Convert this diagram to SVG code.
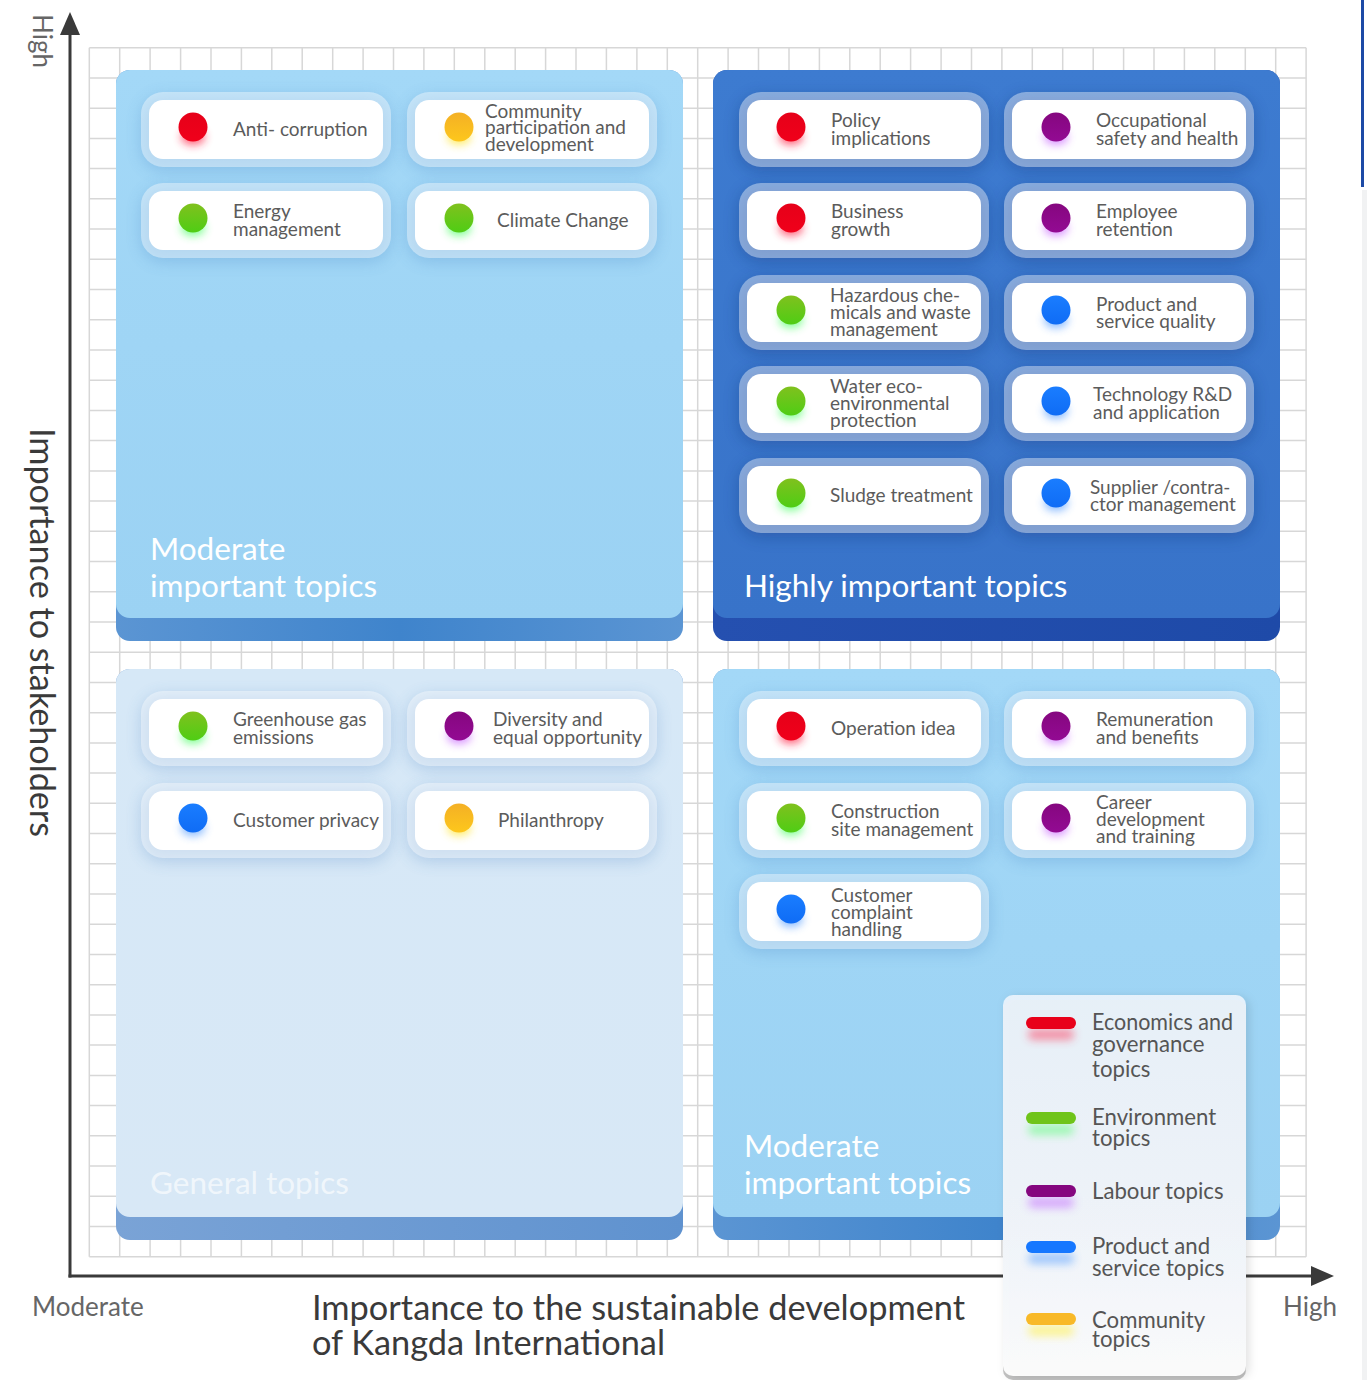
<svg xmlns="http://www.w3.org/2000/svg" width="1367" height="1380" viewBox="0 0 1367 1380">
<style>
.grid{fill:none;stroke:#d7d7d7;stroke-width:1.5}
.ring{fill:#fff;fill-opacity:.4}
.inner{fill:#fff}
.csh{fill:#2a6bb5;opacity:.22}
.cshd{fill:#0a2a70;opacity:.3}
.t{font-family:Lato,"Source Sans Pro","Noto Sans",sans-serif;font-size:19px;fill:#5b5b5b}
.lg{font-family:Lato,"Source Sans Pro","Noto Sans",sans-serif;font-size:22.2px;fill:#555}
.pt{font-family:Lato,"Source Sans Pro","Noto Sans",sans-serif;font-size:31.5px;fill:#fff}
.ax{font-family:Lato,"Source Sans Pro","Noto Sans",sans-serif;font-size:26px;fill:#666}
.ttl{font-family:Lato,"Source Sans Pro","Noto Sans",sans-serif;font-size:35px;fill:#3a3a3a}
.axis{fill:none;stroke:#3a3a3a;stroke-width:3}
</style>
<defs>
<filter id="fB4" x="-80%" y="-80%" width="260%" height="260%"><feGaussianBlur stdDeviation="4"/></filter>
<filter id="fB8" x="-30%" y="-50%" width="160%" height="200%"><feGaussianBlur stdDeviation="8"/></filter>
<filter id="fLeg" x="-10%" y="-10%" width="125%" height="120%"><feDropShadow dx="3" dy="2" stdDeviation="5" flood-color="#000" flood-opacity="0.13"/></filter>
<linearGradient id="gLight" x1="0" y1="0" x2="0" y2="1"><stop offset="0" stop-color="#a3d8f7"/><stop offset="1" stop-color="#9bd2f3"/></linearGradient>
<linearGradient id="gDark" x1="0" y1="0" x2="0" y2="1"><stop offset="0" stop-color="#3d7bd0"/><stop offset="1" stop-color="#3873c9"/></linearGradient>
<linearGradient id="gPale" x1="0" y1="0" x2="0" y2="1"><stop offset="0" stop-color="#d6e8f7"/><stop offset="1" stop-color="#d8e8f6"/></linearGradient>
<linearGradient id="gEdgeL" x1="0" y1="0" x2="1" y2="0"><stop offset="0" stop-color="#5b95d3"/><stop offset=".5" stop-color="#3f84cc"/><stop offset="1" stop-color="#5b95d3"/></linearGradient>
<linearGradient id="gEdgeD" x1="0" y1="0" x2="1" y2="0"><stop offset="0" stop-color="#2550b0"/><stop offset="1" stop-color="#1e4aa8"/></linearGradient>
<linearGradient id="gEdgeP" x1="0" y1="0" x2="1" y2="0"><stop offset="0" stop-color="#7aa3d6"/><stop offset="1" stop-color="#5f92cf"/></linearGradient>
<linearGradient id="gLeg" x1="0" y1="0" x2="0" y2="1"><stop offset="0" stop-color="#eaf3fc"/><stop offset=".6" stop-color="#f2f7fd"/><stop offset="1" stop-color="#ffffff"/></linearGradient>
<linearGradient id="dRed" x1="0" y1="0" x2="0" y2="1"><stop offset="0" stop-color="#e60019"/><stop offset="1" stop-color="#f0001a"/></linearGradient>
<linearGradient id="dGreen" x1="0" y1="0" x2="0" y2="1"><stop offset="0" stop-color="#80c11e"/><stop offset="1" stop-color="#4fcd14"/></linearGradient>
<linearGradient id="dYellow" x1="0" y1="0" x2="0" y2="1"><stop offset="0" stop-color="#f4b025"/><stop offset="1" stop-color="#fdc71c"/></linearGradient>
<linearGradient id="dPurple" x1="0" y1="0" x2="0" y2="1"><stop offset="0" stop-color="#85077f"/><stop offset="1" stop-color="#930a93"/></linearGradient>
<linearGradient id="dBlue" x1="0" y1="0" x2="0" y2="1"><stop offset="0" stop-color="#1a7dff"/><stop offset="1" stop-color="#0f6cf5"/></linearGradient>
<marker id="arrow" viewBox="0 0 23 20" refX="0" refY="10" markerWidth="23" markerHeight="20" markerUnits="userSpaceOnUse" orient="auto"><path d="M0 0L23 10L0 20Z" fill="#3a3a3a"/></marker>
</defs>

<rect width="1367" height="1380" fill="#fff"/>
<rect x="1361" y="0" width="3" height="187" fill="#1c4aa6"/>
<rect x="1362" y="190" width="5" height="1190" fill="#f1f2f3"/>

<g id="grid">
<path class="grid" d="M89.3 47.7V1256.7M119.7 47.7V1256.7M150.1 47.7V1256.7M180.6 47.7V1256.7M211 47.7V1256.7M241.4 47.7V1256.7M271.8 47.7V1256.7M302.2 47.7V1256.7M332.7 47.7V1256.7M363.1 47.7V1256.7M393.5 47.7V1256.7M423.9 47.7V1256.7M454.3 47.7V1256.7M484.8 47.7V1256.7M515.2 47.7V1256.7M545.6 47.7V1256.7M576 47.7V1256.7M606.4 47.7V1256.7M636.9 47.7V1256.7M667.3 47.7V1256.7M697.7 47.7V1256.7M728.1 47.7V1256.7M758.5 47.7V1256.7M789 47.7V1256.7M819.4 47.7V1256.7M849.8 47.7V1256.7M880.2 47.7V1256.7M910.6 47.7V1256.7M941.1 47.7V1256.7M971.5 47.7V1256.7M1001.9 47.7V1256.7M1032.3 47.7V1256.7M1062.7 47.7V1256.7M1093.2 47.7V1256.7M1123.6 47.7V1256.7M1154 47.7V1256.7M1184.4 47.7V1256.7M1214.8 47.7V1256.7M1245.3 47.7V1256.7M1275.7 47.7V1256.7M1306.1 47.7V1256.7"/>
<path class="grid" d="M89.3 47.7H1306.1M89.3 77.9H1306.1M89.3 108.2H1306.1M89.3 138.4H1306.1M89.3 168.6H1306.1M89.3 198.8H1306.1M89.3 229.1H1306.1M89.3 259.3H1306.1M89.3 289.5H1306.1M89.3 319.7H1306.1M89.3 350H1306.1M89.3 380.2H1306.1M89.3 410.4H1306.1M89.3 440.6H1306.1M89.3 470.9H1306.1M89.3 501.1H1306.1M89.3 531.3H1306.1M89.3 561.5H1306.1M89.3 591.8H1306.1M89.3 622H1306.1M89.3 652.2H1306.1M89.3 682.4H1306.1M89.3 712.7H1306.1M89.3 742.9H1306.1M89.3 773.1H1306.1M89.3 803.3H1306.1M89.3 833.6H1306.1M89.3 863.8H1306.1M89.3 894H1306.1M89.3 924.2H1306.1M89.3 954.5H1306.1M89.3 984.7H1306.1M89.3 1014.9H1306.1M89.3 1045.1H1306.1M89.3 1075.4H1306.1M89.3 1105.6H1306.1M89.3 1135.8H1306.1M89.3 1166H1306.1M89.3 1196.3H1306.1M89.3 1226.5H1306.1M89.3 1256.7H1306.1"/>
</g>

<g id="connectors">
<path class="axis" d="M70 1277.5V35" marker-end="url(#arrow)"/>
<path class="axis" d="M68.5 1276H1311" marker-end="url(#arrow)"/>
</g>

<g id="axis-labels">
<text class="ax" transform="translate(33,14) rotate(90)">High</text>
<text class="ttl" transform="translate(30,428) rotate(90)" font-size="34.6" textLength="409" lengthAdjust="spacingAndGlyphs">Importance to stakeholders</text>
<text class="ax" x="32" y="1316">Moderate</text>
<text class="ax" x="1283" y="1316">High</text>
<text class="ttl" x="312" y="1320" textLength="653" lengthAdjust="spacingAndGlyphs">Importance to the sustainable development</text>
<text class="ttl" x="312" y="1355" textLength="353" lengthAdjust="spacingAndGlyphs">of Kangda International</text>
</g>

<!-- Panels -->
<g id="panel-top-left">
<rect x="116" y="70" width="567" height="571" rx="14" fill="url(#gEdgeL)"/>
<rect x="116" y="70" width="567" height="548" rx="14" fill="url(#gLight)"/>
<text class="pt" x="150" y="560">Moderate</text>
<text class="pt" x="150" y="597">important topics</text>
</g>
<g id="panel-top-right">
<rect x="713" y="70" width="567" height="571" rx="14" fill="url(#gEdgeD)"/>
<rect x="713" y="70" width="567" height="548" rx="14" fill="url(#gDark)"/>
<text class="pt" x="744" y="597">Highly important topics</text>
</g>
<g id="panel-bottom-left">
<rect x="116" y="669" width="567" height="571" rx="14" fill="url(#gEdgeP)"/>
<rect x="116" y="669" width="567" height="548" rx="14" fill="url(#gPale)"/>
<text class="pt" x="150" y="1194" fill-opacity="0.65">General topics</text>
</g>
<g id="panel-bottom-right">
<rect x="713" y="669" width="567" height="571" rx="14" fill="url(#gEdgeL)"/>
<rect x="713" y="669" width="567" height="548" rx="14" fill="url(#gLight)"/>
<text class="pt" x="744" y="1157">Moderate</text>
<text class="pt" x="744" y="1194">important topics</text>
</g>

<!-- Cards: top-left -->
<g id="card-anti-corruption" transform="translate(141,92)">
<rect class="csh" y="4" width="250" height="75" rx="22" filter="url(#fB8)"/>
<rect class="ring" width="250" height="75" rx="22"/><rect class="inner" x="8" y="8" width="234" height="59" rx="14"/>
<ellipse cx="52" cy="45" rx="12" ry="8" fill="#ff2244" opacity=".7" filter="url(#fB4)"/><circle cx="52" cy="35" r="14.5" fill="url(#dRed)"/>
<text class="t" x="92" y="43.5">Anti- corruption</text>
</g>
<g id="card-community" transform="translate(407,92)">
<rect class="csh" y="4" width="250" height="75" rx="22" filter="url(#fB8)"/>
<rect class="ring" width="250" height="75" rx="22"/><rect class="inner" x="8" y="8" width="234" height="59" rx="14"/>
<ellipse cx="52" cy="45" rx="12" ry="8" fill="#ffe630" opacity=".7" filter="url(#fB4)"/><circle cx="52" cy="35" r="14.5" fill="url(#dYellow)"/>
<text class="t"><tspan x="78" y="25.5">Community</tspan><tspan x="78" y="42">participation and</tspan><tspan x="78" y="59">development</tspan></text>
</g>
<g id="card-energy" transform="translate(141,183)">
<rect class="csh" y="4" width="250" height="75" rx="22" filter="url(#fB8)"/>
<rect class="ring" width="250" height="75" rx="22"/><rect class="inner" x="8" y="8" width="234" height="59" rx="14"/>
<ellipse cx="52" cy="45" rx="12" ry="8" fill="#30ff50" opacity=".6" filter="url(#fB4)"/><circle cx="52" cy="35" r="14.5" fill="url(#dGreen)"/>
<text class="t"><tspan x="92" y="34.5">Energy</tspan><tspan x="92" y="52.5">management</tspan></text>
</g>
<g id="card-climate" transform="translate(407,183)">
<rect class="csh" y="4" width="250" height="75" rx="22" filter="url(#fB8)"/>
<rect class="ring" width="250" height="75" rx="22"/><rect class="inner" x="8" y="8" width="234" height="59" rx="14"/>
<ellipse cx="52" cy="45" rx="12" ry="8" fill="#30ff50" opacity=".6" filter="url(#fB4)"/><circle cx="52" cy="35" r="14.5" fill="url(#dGreen)"/>
<text class="t" x="90" y="43.5">Climate Change</text>
</g>

<!-- Cards: top-right -->
<g id="card-policy" transform="translate(739,92)">
<rect class="cshd" y="4" width="250" height="75" rx="22" filter="url(#fB8)"/>
<rect class="ring" width="250" height="75" rx="22"/><rect class="inner" x="8" y="8" width="234" height="59" rx="14"/>
<ellipse cx="52" cy="45" rx="12" ry="8" fill="#ff2244" opacity=".7" filter="url(#fB4)"/><circle cx="52" cy="35" r="14.5" fill="url(#dRed)"/>
<text class="t"><tspan x="92" y="34.5">Policy</tspan><tspan x="92" y="52.5">implications</tspan></text>
</g>
<g id="card-occupational" transform="translate(1004,92)">
<rect class="cshd" y="4" width="250" height="75" rx="22" filter="url(#fB8)"/>
<rect class="ring" width="250" height="75" rx="22"/><rect class="inner" x="8" y="8" width="234" height="59" rx="14"/>
<ellipse cx="52" cy="45" rx="12" ry="8" fill="#c050ff" opacity=".6" filter="url(#fB4)"/><circle cx="52" cy="35" r="14.5" fill="url(#dPurple)"/>
<text class="t"><tspan x="92" y="34.5">Occupational</tspan><tspan x="92" y="52.5">safety and health</tspan></text>
</g>
<g id="card-business" transform="translate(739,183)">
<rect class="cshd" y="4" width="250" height="75" rx="22" filter="url(#fB8)"/>
<rect class="ring" width="250" height="75" rx="22"/><rect class="inner" x="8" y="8" width="234" height="59" rx="14"/>
<ellipse cx="52" cy="45" rx="12" ry="8" fill="#ff2244" opacity=".7" filter="url(#fB4)"/><circle cx="52" cy="35" r="14.5" fill="url(#dRed)"/>
<text class="t"><tspan x="92" y="34.5">Business</tspan><tspan x="92" y="52.5">growth</tspan></text>
</g>
<g id="card-employee" transform="translate(1004,183)">
<rect class="cshd" y="4" width="250" height="75" rx="22" filter="url(#fB8)"/>
<rect class="ring" width="250" height="75" rx="22"/><rect class="inner" x="8" y="8" width="234" height="59" rx="14"/>
<ellipse cx="52" cy="45" rx="12" ry="8" fill="#c050ff" opacity=".6" filter="url(#fB4)"/><circle cx="52" cy="35" r="14.5" fill="url(#dPurple)"/>
<text class="t"><tspan x="92" y="34.5">Employee</tspan><tspan x="92" y="52.5">retention</tspan></text>
</g>
<g id="card-hazardous" transform="translate(739,275)">
<rect class="cshd" y="4" width="250" height="75" rx="22" filter="url(#fB8)"/>
<rect class="ring" width="250" height="75" rx="22"/><rect class="inner" x="8" y="8" width="234" height="59" rx="14"/>
<ellipse cx="52" cy="45" rx="12" ry="8" fill="#30ff50" opacity=".6" filter="url(#fB4)"/><circle cx="52" cy="35" r="14.5" fill="url(#dGreen)"/>
<text class="t"><tspan x="91" y="27">Hazardous che-</tspan><tspan x="91" y="44">micals and waste</tspan><tspan x="91" y="61">management</tspan></text>
</g>
<g id="card-product-quality" transform="translate(1004,275)">
<rect class="cshd" y="4" width="250" height="75" rx="22" filter="url(#fB8)"/>
<rect class="ring" width="250" height="75" rx="22"/><rect class="inner" x="8" y="8" width="234" height="59" rx="14"/>
<ellipse cx="52" cy="45" rx="12" ry="8" fill="#3d8fff" opacity=".6" filter="url(#fB4)"/><circle cx="52" cy="35" r="14.5" fill="url(#dBlue)"/>
<text class="t"><tspan x="92" y="35.5">Product and</tspan><tspan x="92" y="53">service quality</tspan></text>
</g>
<g id="card-water" transform="translate(739,366)">
<rect class="cshd" y="4" width="250" height="75" rx="22" filter="url(#fB8)"/>
<rect class="ring" width="250" height="75" rx="22"/><rect class="inner" x="8" y="8" width="234" height="59" rx="14"/>
<ellipse cx="52" cy="45" rx="12" ry="8" fill="#30ff50" opacity=".6" filter="url(#fB4)"/><circle cx="52" cy="35" r="14.5" fill="url(#dGreen)"/>
<text class="t"><tspan x="91" y="26.5">Water eco-</tspan><tspan x="91" y="43.5">environmental</tspan><tspan x="91" y="60.5">protection</tspan></text>
</g>
<g id="card-technology" transform="translate(1004,366)">
<rect class="cshd" y="4" width="250" height="75" rx="22" filter="url(#fB8)"/>
<rect class="ring" width="250" height="75" rx="22"/><rect class="inner" x="8" y="8" width="234" height="59" rx="14"/>
<ellipse cx="52" cy="45" rx="12" ry="8" fill="#3d8fff" opacity=".6" filter="url(#fB4)"/><circle cx="52" cy="35" r="14.5" fill="url(#dBlue)"/>
<text class="t"><tspan x="89" y="34.5">Technology R&amp;D</tspan><tspan x="89" y="52.5">and application</tspan></text>
</g>
<g id="card-sludge" transform="translate(739,458)">
<rect class="cshd" y="4" width="250" height="75" rx="22" filter="url(#fB8)"/>
<rect class="ring" width="250" height="75" rx="22"/><rect class="inner" x="8" y="8" width="234" height="59" rx="14"/>
<ellipse cx="52" cy="45" rx="12" ry="8" fill="#30ff50" opacity=".6" filter="url(#fB4)"/><circle cx="52" cy="35" r="14.5" fill="url(#dGreen)"/>
<text class="t" x="91" y="43.5">Sludge treatment</text>
</g>
<g id="card-supplier" transform="translate(1004,458)">
<rect class="cshd" y="4" width="250" height="75" rx="22" filter="url(#fB8)"/>
<rect class="ring" width="250" height="75" rx="22"/><rect class="inner" x="8" y="8" width="234" height="59" rx="14"/>
<ellipse cx="52" cy="45" rx="12" ry="8" fill="#3d8fff" opacity=".6" filter="url(#fB4)"/><circle cx="52" cy="35" r="14.5" fill="url(#dBlue)"/>
<text class="t"><tspan x="86" y="35.5">Supplier /contra-</tspan><tspan x="86" y="52.5">ctor management</tspan></text>
</g>

<!-- Cards: bottom-left -->
<g id="card-greenhouse" transform="translate(141,691)">
<rect class="csh" y="4" width="250" height="75" rx="22" filter="url(#fB8)" opacity=".1"/>
<rect class="ring" width="250" height="75" rx="22"/><rect class="inner" x="8" y="8" width="234" height="59" rx="14"/>
<ellipse cx="52" cy="45" rx="12" ry="8" fill="#30ff50" opacity=".6" filter="url(#fB4)"/><circle cx="52" cy="35" r="14.5" fill="url(#dGreen)"/>
<text class="t"><tspan x="92" y="34.5">Greenhouse gas</tspan><tspan x="92" y="52.5">emissions</tspan></text>
</g>
<g id="card-diversity" transform="translate(407,691)">
<rect class="csh" y="4" width="250" height="75" rx="22" filter="url(#fB8)" opacity=".1"/>
<rect class="ring" width="250" height="75" rx="22"/><rect class="inner" x="8" y="8" width="234" height="59" rx="14"/>
<ellipse cx="52" cy="45" rx="12" ry="8" fill="#c050ff" opacity=".6" filter="url(#fB4)"/><circle cx="52" cy="35" r="14.5" fill="url(#dPurple)"/>
<text class="t"><tspan x="86" y="34.5">Diversity and</tspan><tspan x="86" y="52.5">equal opportunity</tspan></text>
</g>
<g id="card-customer-privacy" transform="translate(141,783)">
<rect class="csh" y="4" width="250" height="75" rx="22" filter="url(#fB8)" opacity=".1"/>
<rect class="ring" width="250" height="75" rx="22"/><rect class="inner" x="8" y="8" width="234" height="59" rx="14"/>
<ellipse cx="52" cy="45" rx="12" ry="8" fill="#3d8fff" opacity=".6" filter="url(#fB4)"/><circle cx="52" cy="35" r="14.5" fill="url(#dBlue)"/>
<text class="t" x="92" y="43.5">Customer privacy</text>
</g>
<g id="card-philanthropy" transform="translate(407,783)">
<rect class="csh" y="4" width="250" height="75" rx="22" filter="url(#fB8)" opacity=".1"/>
<rect class="ring" width="250" height="75" rx="22"/><rect class="inner" x="8" y="8" width="234" height="59" rx="14"/>
<ellipse cx="52" cy="45" rx="12" ry="8" fill="#ffe630" opacity=".7" filter="url(#fB4)"/><circle cx="52" cy="35" r="14.5" fill="url(#dYellow)"/>
<text class="t" x="91" y="43.5">Philanthropy</text>
</g>

<!-- Cards: bottom-right -->
<g id="card-operation" transform="translate(739,691)">
<rect class="csh" y="4" width="250" height="75" rx="22" filter="url(#fB8)"/>
<rect class="ring" width="250" height="75" rx="22"/><rect class="inner" x="8" y="8" width="234" height="59" rx="14"/>
<ellipse cx="52" cy="45" rx="12" ry="8" fill="#ff2244" opacity=".7" filter="url(#fB4)"/><circle cx="52" cy="35" r="14.5" fill="url(#dRed)"/>
<text class="t" x="92" y="43.5">Operation idea</text>
</g>
<g id="card-remuneration" transform="translate(1004,691)">
<rect class="csh" y="4" width="250" height="75" rx="22" filter="url(#fB8)"/>
<rect class="ring" width="250" height="75" rx="22"/><rect class="inner" x="8" y="8" width="234" height="59" rx="14"/>
<ellipse cx="52" cy="45" rx="12" ry="8" fill="#c050ff" opacity=".6" filter="url(#fB4)"/><circle cx="52" cy="35" r="14.5" fill="url(#dPurple)"/>
<text class="t"><tspan x="92" y="34.5">Remuneration</tspan><tspan x="92" y="52.5">and benefits</tspan></text>
</g>
<g id="card-construction" transform="translate(739,783)">
<rect class="csh" y="4" width="250" height="75" rx="22" filter="url(#fB8)"/>
<rect class="ring" width="250" height="75" rx="22"/><rect class="inner" x="8" y="8" width="234" height="59" rx="14"/>
<ellipse cx="52" cy="45" rx="12" ry="8" fill="#30ff50" opacity=".6" filter="url(#fB4)"/><circle cx="52" cy="35" r="14.5" fill="url(#dGreen)"/>
<text class="t"><tspan x="92" y="34.5">Construction</tspan><tspan x="92" y="52.5">site management</tspan></text>
</g>
<g id="card-career" transform="translate(1004,783)">
<rect class="csh" y="4" width="250" height="75" rx="22" filter="url(#fB8)"/>
<rect class="ring" width="250" height="75" rx="22"/><rect class="inner" x="8" y="8" width="234" height="59" rx="14"/>
<ellipse cx="52" cy="45" rx="12" ry="8" fill="#c050ff" opacity=".6" filter="url(#fB4)"/><circle cx="52" cy="35" r="14.5" fill="url(#dPurple)"/>
<text class="t"><tspan x="92" y="25.5">Career</tspan><tspan x="92" y="42.5">development</tspan><tspan x="92" y="59.5">and training</tspan></text>
</g>
<g id="card-complaint" transform="translate(739,874)">
<rect class="csh" y="4" width="250" height="75" rx="22" filter="url(#fB8)"/>
<rect class="ring" width="250" height="75" rx="22"/><rect class="inner" x="8" y="8" width="234" height="59" rx="14"/>
<ellipse cx="52" cy="45" rx="12" ry="8" fill="#3d8fff" opacity=".6" filter="url(#fB4)"/><circle cx="52" cy="35" r="14.5" fill="url(#dBlue)"/>
<text class="t"><tspan x="92" y="27.5">Customer</tspan><tspan x="92" y="44.5">complaint</tspan><tspan x="92" y="61.5">handling</tspan></text>
</g>

<!-- Legend -->
<g id="legend">
<rect x="1003" y="1000" width="243" height="380" rx="10" fill="#c4c4c4"/>
<rect x="1003" y="995" width="243" height="381" rx="10" fill="url(#gLeg)" fill-opacity=".93" filter="url(#fLeg)"/>
<rect x="1028" y="1029" width="46" height="11" rx="5" fill="#ff3355" opacity=".5" filter="url(#fB4)"/>
<rect x="1026" y="1017" width="50" height="12" rx="6" fill="#e8001a"/>
<text class="lg"><tspan x="1092" y="1030" textLength="141" lengthAdjust="spacingAndGlyphs">Economics and</tspan><tspan x="1092" y="1052">governance</tspan><tspan x="1092" y="1077">topics</tspan></text>
<rect x="1028" y="1124" width="46" height="11" rx="5" fill="#40ff60" opacity=".45" filter="url(#fB4)"/>
<rect x="1026" y="1112" width="50" height="12" rx="6" fill="#6fc41a"/>
<text class="lg"><tspan x="1092" y="1125">Environment</tspan><tspan x="1092" y="1146">topics</tspan></text>
<rect x="1028" y="1197" width="46" height="11" rx="5" fill="#c060ff" opacity=".5" filter="url(#fB4)"/>
<rect x="1026" y="1185" width="50" height="12" rx="6" fill="#85067f"/>
<text class="lg" x="1092" y="1199">Labour topics</text>
<rect x="1028" y="1253" width="46" height="11" rx="5" fill="#3d8fff" opacity=".45" filter="url(#fB4)"/>
<rect x="1026" y="1241" width="50" height="12" rx="6" fill="#1577ff"/>
<text class="lg"><tspan x="1092" y="1254">Product and</tspan><tspan x="1092" y="1276">service topics</tspan></text>
<rect x="1028" y="1325" width="46" height="11" rx="5" fill="#fff040" opacity=".55" filter="url(#fB4)"/>
<rect x="1026" y="1313" width="50" height="12" rx="6" fill="#f8b928"/>
<text class="lg"><tspan x="1092" y="1328">Community</tspan><tspan x="1092" y="1347">topics</tspan></text>
</g>
</svg>
